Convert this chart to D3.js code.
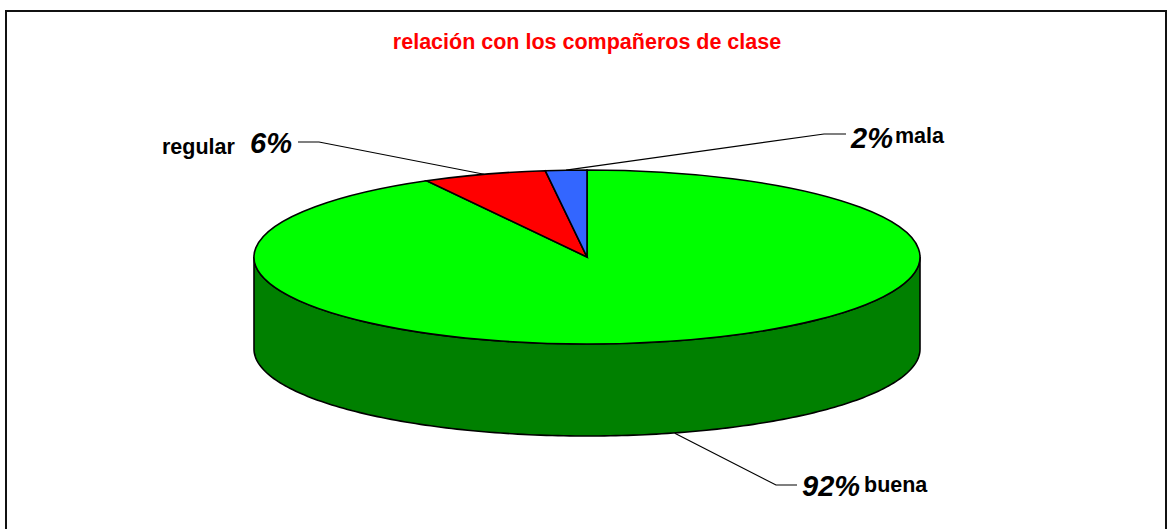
<!DOCTYPE html>
<html><head><meta charset="utf-8">
<script src="https://cdn.jsdelivr.net/npm/d3@7"></script>
<style>html,body{margin:0;padding:0;background:#fff;overflow:hidden}svg{display:block}text{font-family:"Liberation Sans",Arial,sans-serif;font-weight:bold}</style>
</head><body><svg id="c" width="1169" height="529"></svg>
<script>
const titleText = "relación con los compañeros de clase";
const categories = ["buena", "regular", "mala"];
const shares = [92, 6, 2];
const sliceColors = ["#00ff00", "#ff0000", "#3366ff"];
const wallColor = "#008000";
const inkColor = "#000000";

const W = 1169, H = 529, cx = 587, cy = 257, rx = 333, ry = 87, depth = 92;
const svg = d3.select("#c");

svg.append("rect").attr("x", 6).attr("y", 11).attr("width", 1160).attr("height", 530)
  .attr("fill", "#fff").attr("stroke", "#111").attr("stroke-width", 2);

svg.append("text").attr("x", 587).attr("y", 49).attr("text-anchor", "middle")
  .attr("font-size", 21.5).attr("fill", "#ff0000").text(titleText);

const pie = d3.pie().sort(null)(shares);
const arc = d3.arc().innerRadius(0).outerRadius(rx);
const px = a => cx + rx * Math.sin(a), py = a => cy - ry * Math.cos(a);

const wallAngles = d3.range(Math.PI / 2, 3 * Math.PI / 2 + 0.001, Math.PI / 180);
svg.append("path").datum(wallAngles)
  .attr("d", d3.area().x(px).y0(py).y1(a => py(a) + depth))
  .attr("fill", wallColor).attr("stroke", inkColor).attr("stroke-width", 1.6);

svg.append("g").attr("transform", `translate(${cx},${cy}) scale(1,${ry / rx})`)
  .selectAll("path").data(pie).join("path")
  .attr("d", arc).attr("fill", (d, i) => sliceColors[i])
  .attr("stroke", inkColor).attr("stroke-width", 1.6)
  .attr("vector-effect", "non-scaling-stroke");

const mid = d => (d.startAngle + d.endAngle) / 2;
const leader = d3.line();
const anchors = [
  { from: d => [px(mid(d)) + 5, py(mid(d)) + depth], elbow: [776, 485], end: [797, 485] },
  { from: d => [px(mid(d)), py(mid(d))], elbow: [319, 142], end: [298, 142] },
  { from: d => [px(mid(d)), py(mid(d))], elbow: [824, 134], end: [846, 134] }
];
svg.append("g").selectAll("path").data(pie).join("path")
  .attr("d", (d, i) => leader([anchors[i].from(d), anchors[i].elbow, anchors[i].end]))
  .attr("fill", "none").attr("stroke", inkColor).attr("stroke-width", 1.2);

const pctPos = [[802, 496], [250, 153], [851, 148]];
const namePos = [[864, 492], [162, 154], [895, 143]];
const g = svg.append("g");
pie.forEach((d, i) => {
  g.append("text").attr("x", pctPos[i][0]).attr("y", pctPos[i][1])
    .attr("font-size", 29).attr("font-style", "italic").attr("fill", inkColor).text(shares[i] + "%");
  g.append("text").attr("x", namePos[i][0]).attr("y", namePos[i][1])
    .attr("font-size", 21.5).attr("fill", inkColor).text(categories[i]);
});
</script></body></html>
